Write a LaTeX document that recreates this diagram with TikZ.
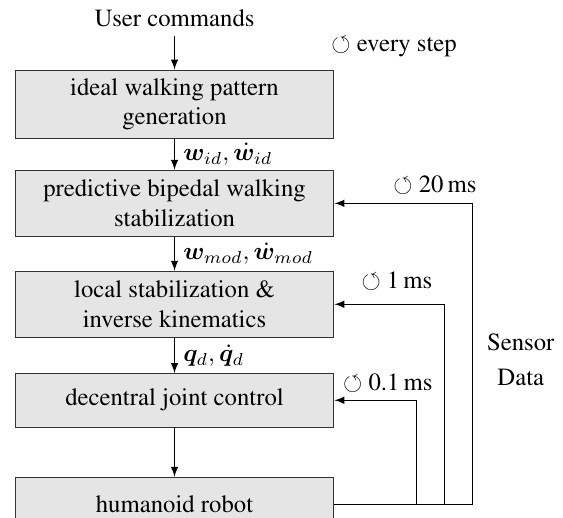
\documentclass[tikz,border=0pt]{standalone}
\usepackage{amssymb}
\usepackage{amsmath}
\usepackage{bm}
\usepackage[T1]{fontenc}
\usepackage{times}
\usetikzlibrary{positioning, arrows}

\tikzset{
  block/.style={draw=black!80, fill=gray!20, minimum width=4.53cm, minimum height=0.76cm, align=center},
  tall/.style={minimum height=0.94cm},
  rate/.style={inner sep=1pt}
}

\begin{document}
\begin{tikzpicture}[>=latex]
        \useasboundingbox (0,0) rectangle (8.0,-7.36);
        % processing chain
        \node (user) at (2.48,-0.26) {User commands};
        \node[block, tall] (ideal) at (2.48,-1.48) {ideal walking pattern\\generation};
        \node[block, tall, below=0.44cm of ideal] (pred) {predictive bipedal walking\\stabilization};
        \node[block, tall, below=0.48cm of pred] (local) {local stabilization \&\\inverse kinematics};
        \node[block, below=0.5cm of local] (joint) {decentral joint control};
        \node[block, below=0.7cm of joint] (robot) {humanoid robot};

        \draw[->] (user) -- (ideal);
        \draw[->] (ideal) -- node[right] {$\bm{w}_{id}, \dot{\bm{w}}_{id}$} (pred);
        \draw[->] (pred) -- node[right] {$\bm{w}_{mod}, \dot{\bm{w}}_{mod}$} (local);
        \draw[->] (local) -- node[right] {$\bm{q}_{d}, \dot{\bm{q}}_{d}$} (joint);
        \draw[->] (joint) -- (robot);

        % sensor feedback
        \coordinate (fbjoint) at (5.92,0);
        \coordinate (fblocal) at (6.32,0);
        \coordinate (fbpred) at (6.72,0);
        \draw (robot.east) -- (robot.east -| fbpred);
        \draw[->] (robot.east -| fbjoint) |- (joint.east);
        \draw[->] (robot.east -| fblocal) |- (local.east);
        \draw[->] (robot.east -| fbpred) |- (pred.east);

        % cycle times
        \node[rate] (tstep) at (5.6,-0.67) {$\circlearrowleft$ every step};
        \node[rate] (t20) at (6.18,-2.63) {$\circlearrowleft$ 20\,ms};
        \node[rate] (t1) at (5.64,-4.0) {$\circlearrowleft$ 1\,ms};
        \node[rate] (t01) at (5.51,-5.44) {$\circlearrowleft$ 0.1\,ms};
        \node[align=center] (sensor) at (7.4,-5.11) {Sensor\\[2pt]Data};
\end{tikzpicture}
\end{document}
